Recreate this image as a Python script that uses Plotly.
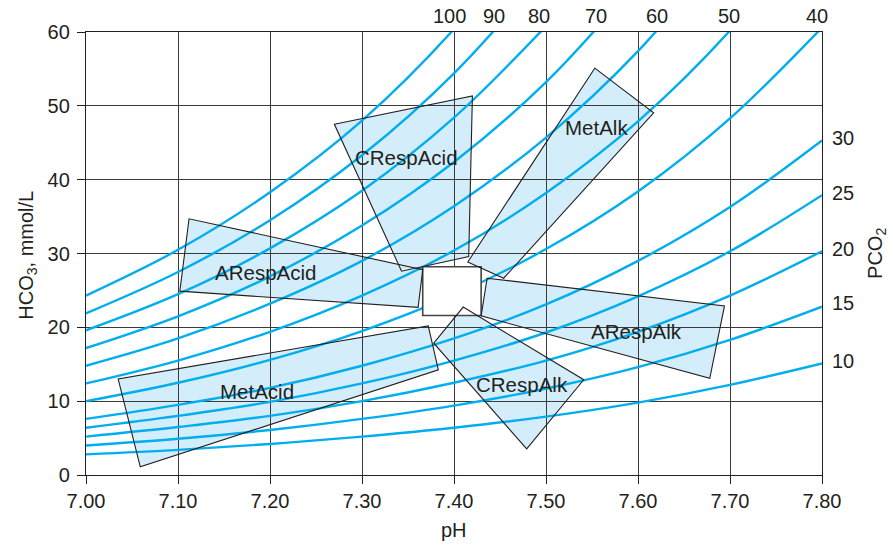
import plotly.graph_objects as go

# pH grid for isobars
ph = [7.0, 7.1, 7.2, 7.3, 7.4, 7.5, 7.6, 7.7, 7.8]

# PCO2 isobars: HCO3 (mmol/L) read at each pH step
pco2_levels = [100, 90, 80, 70, 60, 50, 40, 30, 25, 20, 15, 10]
hco3_100 = [24.3, 30.5, 38.3, 48.0, 60.4, 75.9]
hco3_90 = [21.9, 27.5, 34.5, 43.3, 54.4, 68.3]
hco3_80 = [19.6, 24.5, 30.7, 38.5, 48.4, 60.8]
hco3_70 = [17.2, 21.5, 26.9, 33.8, 42.4, 53.2, 66.9]
hco3_60 = [14.8, 18.5, 23.2, 29.0, 36.4, 45.7, 57.4, 72.2]
hco3_50 = [12.4, 15.5, 19.4, 24.3, 30.4, 38.2, 47.9, 60.2, 75.7]
hco3_40 = [10.0, 12.5, 15.6, 19.5, 24.4, 30.6, 38.4, 48.3, 60.6]
hco3_30 = [7.6, 9.5, 11.8, 14.8, 18.5, 23.1, 29.0, 36.3, 45.3]
hco3_25 = [6.4, 8.0, 9.9, 12.4, 15.5, 19.3, 24.2, 30.3, 37.9]
hco3_20 = [5.2, 6.5, 8.0, 10.0, 12.5, 15.5, 19.4, 24.3, 30.3]
hco3_15 = [4.0, 4.9, 6.1, 7.6, 9.4, 11.7, 14.6, 18.3, 22.8]
hco3_10 = [2.8, 3.4, 4.2, 5.2, 6.4, 7.9, 9.8, 12.2, 15.1]
isobars = [hco3_100, hco3_90, hco3_80, hco3_70, hco3_60, hco3_50,
           hco3_40, hco3_30, hco3_25, hco3_20, hco3_15, hco3_10]

# label positions of isobars
top_labels = ["100", "90", "80", "70", "60", "50", "40"]
top_label_ph = [7.395, 7.444, 7.492, 7.554, 7.621, 7.699, 7.795]
right_labels = ["30", "25", "20", "15", "10"]
right_label_hco3 = [45.7, 38.2, 30.6, 23.3, 15.5]

# disorder regions (pH, HCO3 vertices)
regions = {
    "ARespAcid": ([7.112, 7.102, 7.361, 7.366], [34.7, 24.9, 22.7, 27.8]),
    "CRespAcid": ([7.270, 7.420, 7.416, 7.343], [47.5, 51.35, 29.6, 27.6]),
    "MetAlk": ([7.553, 7.617, 7.454, 7.415], [55.1, 49.05, 26.65, 28.85]),
    "ARespAlk": ([7.436, 7.694, 7.678, 7.4295], [26.65, 22.9, 13.1, 21.55]),
    "CRespAlk": ([7.378, 7.410, 7.541, 7.479], [17.85, 22.75, 12.9, 3.55]),
    "MetAcid": ([7.035, 7.059, 7.383, 7.372], [13.0, 1.1, 14.25, 20.2]),
}
region_label_pos = {
    "ARespAcid": (7.195, 27.4),
    "CRespAcid": (7.348, 43.0),
    "MetAlk": (7.555, 47.0),
    "ARespAlk": (7.598, 19.5),
    "CRespAlk": (7.474, 12.3),
    "MetAcid": (7.186, 11.3),
}
normal_ph = [7.366, 7.4295]
normal_hco3 = [21.6, 28.2]

TXT = "#231f20"
FONT = "Liberation Sans, Arial, sans-serif"

fig = go.Figure()

for lvl, vals in zip(pco2_levels, isobars):
    fig.add_trace(go.Scatter(
        x=ph[:len(vals)], y=vals, mode="lines", name=str(lvl),
        line=dict(color="#00aeef", width=2.4, shape="spline", smoothing=1.0),
        hoverinfo="skip", showlegend=False))

shapes = []


def path_of(xs, ys):
    p = "M " + " L ".join(f"{x},{y}" for x, y in zip(xs, ys)) + " Z"
    return p


for name, (xs, ys) in regions.items():
    shapes.append(dict(type="path", path=path_of(xs, ys), xref="x", yref="y",
                       fillcolor="#d4edfa", line=dict(width=0), layer="below"))

shapes.append(dict(type="rect", xref="x", yref="y",
                   x0=normal_ph[0], x1=normal_ph[1], y0=normal_hco3[0], y1=normal_hco3[1],
                   fillcolor="white", line=dict(color="#444444", width=1.6), layer="above"))

for name, (xs, ys) in regions.items():
    shapes.append(dict(type="path", path=path_of(xs, ys), xref="x", yref="y",
                       fillcolor="rgba(0,0,0,0)", line=dict(color="#231f20", width=1.1),
                       layer="above"))

annotations = []
for name, (lx, ly) in region_label_pos.items():
    annotations.append(dict(x=lx, y=ly, xref="x", yref="y", text=name, showarrow=False,
                            font=dict(size=20.5, color=TXT, family=FONT)))

for t, x in zip(top_labels, top_label_ph):
    annotations.append(dict(x=x, y=1.035, xref="x", yref="paper", text=t, showarrow=False,
                            yanchor="middle", font=dict(size=20, color=TXT, family=FONT)))

for t, y in zip(right_labels, right_label_hco3):
    annotations.append(dict(x=1.011, y=y, xref="paper", yref="y", text=t, showarrow=False,
                            xanchor="left", yanchor="middle",
                            font=dict(size=20, color=TXT, family=FONT)))

annotations.append(dict(x=1.074, y=0.5, xref="paper", yref="paper", text="PCO<sub>2</sub>",
                        textangle=-90, showarrow=False, xanchor="center", yanchor="middle",
                        font=dict(size=20, color=TXT, family=FONT)))
annotations.append(dict(x=-0.079, y=0.497, xref="paper", yref="paper",
                        text="HCO<sub>3</sub>, mmol/L",
                        textangle=-90, showarrow=False, xanchor="center", yanchor="middle",
                        font=dict(size=20, color=TXT, family=FONT)))
annotations.append(dict(x=0.5, y=-0.124, xref="paper", yref="paper", text="pH",
                        showarrow=False, xanchor="center", yanchor="middle",
                        font=dict(size=20, color=TXT, family=FONT)))

fig.update_layout(
    width=893, height=545,
    margin=dict(l=86, r=71, t=32, b=70),
    paper_bgcolor="white", plot_bgcolor="white",
    shapes=shapes, annotations=annotations,
    font=dict(family=FONT, size=20, color=TXT),
    xaxis=dict(range=[7.0, 7.8], tickvals=ph, ticktext=[f"{v:.2f}" for v in ph],
               showgrid=True, gridcolor="#3a3a3a", gridwidth=1,
               showline=True, linecolor="#231f20", linewidth=1.3, mirror=True,
               ticks="outside", ticklen=8, tickcolor="#231f20", tickwidth=1.2,
               zeroline=False, fixedrange=True,
               tickfont=dict(size=20, color=TXT, family=FONT)),
    yaxis=dict(range=[0, 60], tickvals=[0, 10, 20, 30, 40, 50, 60],
               showgrid=True, gridcolor="#3a3a3a", gridwidth=1,
               showline=True, linecolor="#231f20", linewidth=1.3, mirror=True,
               ticks="outside", ticklen=8, tickcolor="#231f20", tickwidth=1.2,
               ticklabelstandoff=3,
               zeroline=False, fixedrange=True,
               tickfont=dict(size=20, color=TXT, family=FONT)),
)

fig.write_html("out.html", config={"displayModeBar": False},
               post_script="document.body.style.margin='0px';document.body.style.overflow='hidden';")
